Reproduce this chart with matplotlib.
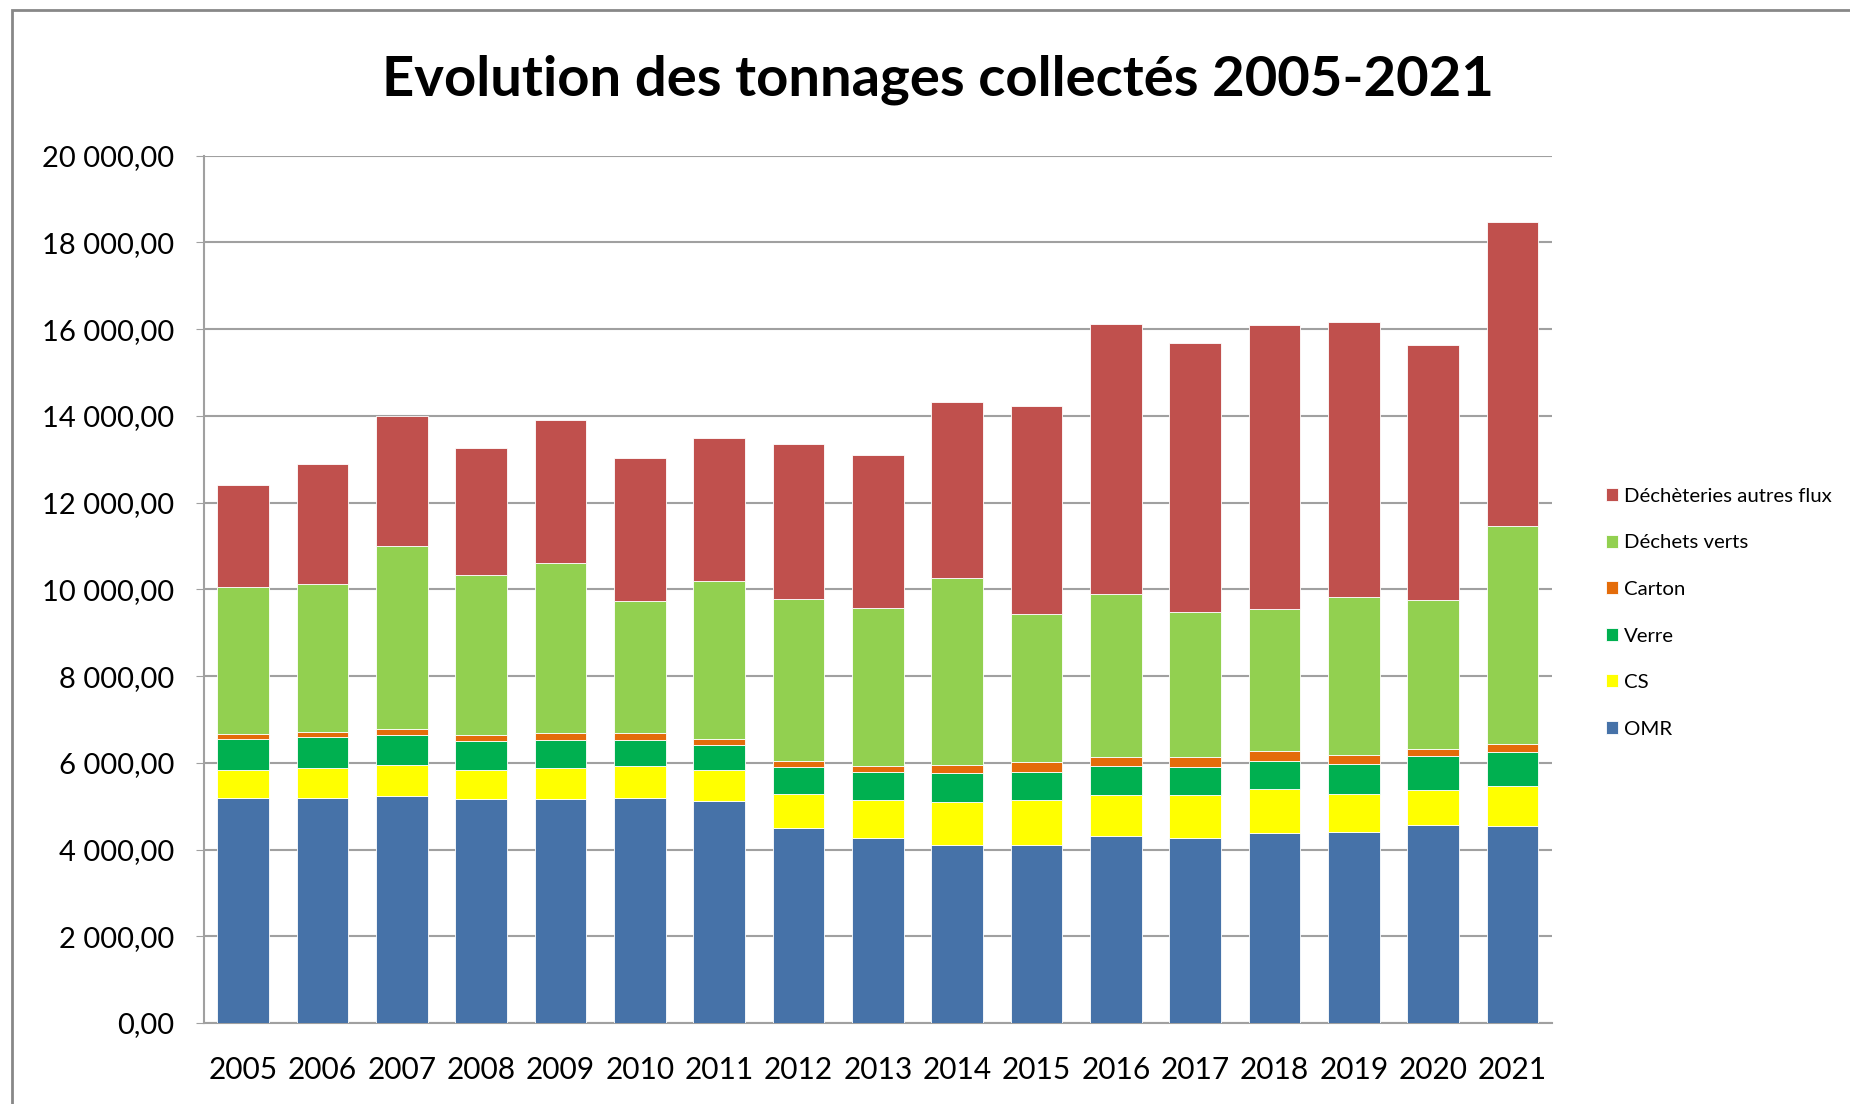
# tonnages collectés 2005-2021, stacked bars

import numpy as np
import matplotlib
matplotlib.use('Agg')
import matplotlib.pyplot as plt
from matplotlib.ticker import FuncFormatter, MultipleLocator
from matplotlib.patches import Rectangle

plt.rcParams['font.family'] = ['Lato', 'DejaVu Sans']

years = [str(y) for y in range(2005, 2022)]

omr     = [5190, 5190, 5230, 5165, 5165, 5195, 5115, 4490, 4265, 4110, 4110, 4305, 4265, 4380, 4410, 4570, 4535]
cs      = [640, 680, 730, 670, 710, 730, 720, 795, 880, 980, 1035, 945, 990, 1025, 880, 805, 940]
verre   = [730, 720, 680, 660, 660, 610, 580, 620, 650, 675, 650, 685, 655, 645, 680, 790, 780]
carton  = [115, 115, 145, 145, 145, 145, 145, 140, 140, 175, 220, 195, 230, 225, 200, 150, 185]
dverts  = [3390, 3430, 4220, 3690, 3920, 3050, 3640, 3730, 3645, 4330, 3425, 3755, 3340, 3270, 3655, 3435, 5030]
dautres = [2350, 2750, 2990, 2930, 3300, 3310, 3280, 3580, 3515, 4045, 4785, 6245, 6200, 6545, 6350, 5895, 6995]

series = [
    ('OMR', omr, '#4672A8'),
    ('CS', cs, '#FFFF00'),
    ('Verre', verre, '#00B050'),
    ('Carton', carton, '#E46C0A'),
    ('Déchets verts', dverts, '#92D050'),
    ('Déchèteries autres flux', dautres, '#C0504D'),
]

def fr_fmt(v, pos):
    s = '{:,.2f}'.format(v)
    return s.replace(',', ' ').replace('.', ',')

#### plotting #####
fig = plt.figure(figsize=(18.5, 11.04), dpi=100)
ax = fig.add_axes([0.110, 0.0734, 0.729, 0.7855])

x = np.arange(len(years))
bottom = np.zeros(len(years))
for name, vals, col in series:
    ax.bar(x, vals, width=0.65, bottom=bottom, color=col, edgecolor='white',
           linewidth=0.6, label=name, zorder=3)
    bottom += np.array(vals)

ax.set_xlim(-0.5, len(years) - 0.5)
ax.set_ylim(0, 20000)
ax.yaxis.set_major_locator(MultipleLocator(2000))
ax.yaxis.set_major_formatter(FuncFormatter(fr_fmt))
ax.set_xticks(x)
ax.set_xticklabels(years)
ax.tick_params(axis='y', labelsize=21, length=6, color='#A0A0A0', pad=15)
ax.tick_params(axis='x', labelsize=21.5, length=0, pad=24)
ax.grid(axis='y', color='#A0A0A0', linewidth=1.5, zorder=0)
ax.set_axisbelow(True)
for s in ['top', 'right']:
    ax.spines[s].set_visible(False)
for s in ['left', 'bottom']:
    ax.spines[s].set_color('#A0A0A0')
    ax.spines[s].set_linewidth(1.5)

fig.text(0.507, 0.928, 'Evolution des tonnages collectés 2005-2021', ha='center',
         va='center', fontsize=40.5, fontweight='bold')

h, l = ax.get_legend_handles_labels()
fig.legend(h[::-1], l[::-1], loc='center left', bbox_to_anchor=(0.858, 0.445),
           frameon=False, fontsize=14.7, handlelength=0.6, handleheight=0.6,
           handletextpad=0.3, labelspacing=1.45)

# outer frame of the chart
fig.patches.append(Rectangle((12 / 1850, -0.1), 1.2, 1 - 10 / 1104 + 0.1,
                             transform=fig.transFigure, fill=False,
                             edgecolor='#888888', linewidth=2))

plt.savefig('out.png', dpi=100)
